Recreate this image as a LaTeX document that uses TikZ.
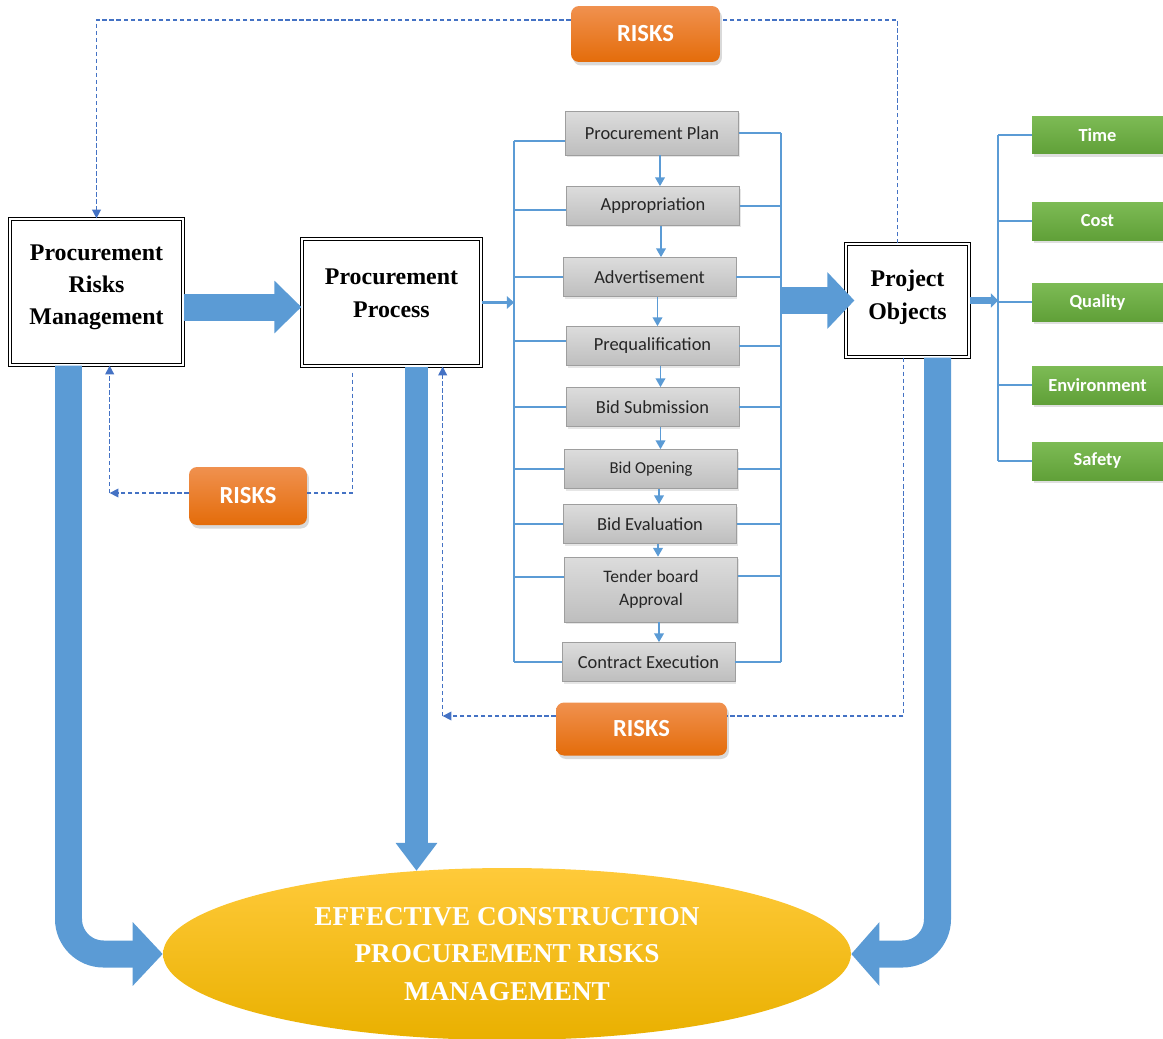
\documentclass[tikz,border=0pt]{standalone}
\usepackage{fontspec}
\setmainfont{Liberation Serif}
\newfontfamily\calibri{Carlito}
\usetikzlibrary{arrows.meta,shapes.geometric,shadows,calc}
\definecolor{flowblue}{HTML}{5B9BD5}
\definecolor{dashblue}{HTML}{4472C4}
\definecolor{risktop}{HTML}{F0914F}
\definecolor{riskbottom}{HTML}{E46C0A}
\definecolor{objtop}{HTML}{7DBB55}
\definecolor{objbottom}{HTML}{60A038}
\definecolor{steptop}{HTML}{DCDCDC}
\definecolor{stepbottom}{HTML}{BEBEBE}
\definecolor{goaltop}{HTML}{FFCA3A}
\definecolor{goalmid}{HTML}{FFC000}
\definecolor{goalbottom}{HTML}{E9B000}
\newcommand\liftlines[2]{\raisebox{#1}[\height][\depth]{\begin{tabular}{@{}c@{}}#2\end{tabular}}}

\begin{document}
\begin{tikzpicture}[x=0.02cm,y=-0.02cm,
  mainbox/.style={draw=black,line width=0.7pt,double=white,double distance=1.3pt,fill=white,
    align=center,inner sep=0pt,font=\fontsize{13.6}{18.4}\selectfont\bfseries},
  stepbox/.style={draw=black!38,top color=steptop,bottom color=stepbottom,text=black!85,
    minimum width=3.46cm,minimum height=0.78cm,inner sep=1pt,align=center,
    font=\calibri\fontsize{10.5}{12.5}\selectfont,
    drop shadow={opacity=0.2,shadow xshift=0.03cm,shadow yshift=-0.04cm}},
  riskbox/.style={rounded corners=0.16cm,top color=risktop,bottom color=riskbottom,text=white,
    font=\calibri\bfseries\fontsize{14}{16}\selectfont,
    drop shadow={opacity=0.3,shadow xshift=0.04cm,shadow yshift=-0.07cm}},
  objbox/.style={top color=objtop,bottom color=objbottom,text=white,minimum width=2.62cm,
    minimum height=0.76cm,font=\calibri\bfseries\fontsize{10.5}{12.5}\selectfont,
    drop shadow={opacity=0.25,shadow xshift=0.03cm,shadow yshift=-0.06cm}},
  bigarrow/.style={draw=flowblue,line width=0.54cm,-{Triangle[width=1.1cm,length=0.54cm]}},
  linkline/.style={draw=flowblue,line width=0.9pt},
  steparrow/.style={flowblue,line width=0.9pt,-{Triangle[width=5.5pt,length=5pt]}},
  riskline/.style={dashblue,line width=0.8pt,dash pattern=on 2.5pt off 1.5pt},
  riskarrow/.style={riskline,-{Triangle[width=5pt,length=5pt]}}]
\useasboundingbox (0,0) rectangle (1163,1038);

% main blocks
\node[mainbox,minimum width=3.46cm,minimum height=2.92cm] (prm) at (96.5,292) {\liftlines{3.4pt}{Procurement\\Risks\\Management}};
\node[mainbox,minimum width=3.58cm,minimum height=2.54cm] (pp) at (391.5,302.5) {\liftlines{4.5pt}{Procurement\\Process}};
\node[mainbox,minimum width=2.46cm,minimum height=2.26cm] (po) at (907.5,300.5) {\liftlines{2.3pt}{Project\\Objects}};

\node[ellipse,minimum width=13.76cm,minimum height=3.44cm,inner sep=0pt,top color=goaltop,middle color=goalmid,
  bottom color=goalbottom,text=white,align=center,font=\fontsize{15.5}{21.3}\selectfont\bfseries] (goal) at (507,954)
  {EFFECTIVE CONSTRUCTION\\PROCUREMENT RISKS\\MANAGEMENT};

% procurement steps
\node[stepbox,minimum height=0.88cm] (plan) at (652,133) {Procurement Plan};
\node[stepbox] (appr) at (653,206) {Appropriation};
\node[stepbox] (adv) at (649.5,277) {Advertisement};
\node[stepbox] (preq) at (652.5,346) {Prequalification};
\node[stepbox] (bsub) at (652.5,407) {Bid Submission};
\node[stepbox,font=\calibri\fontsize{9.5}{12}\selectfont] (bopen) at (651,469) {Bid Opening};
\node[stepbox] (beval) at (650,524) {Bid Evaluation};
\node[stepbox,minimum height=1.3cm,font=\calibri\fontsize{10}{13}\selectfont] (tender) at (651,589.5) {Tender board\\Approval};
\node[stepbox] (cexec) at (648.5,662) {Contract Execution};

\coordinate (lbar) at (514,0);
\coordinate (rbar) at (781,0);
\draw[linkline] ($(plan.west -| lbar)+(0,8)$) -- (cexec.west -| lbar);
\draw[linkline] (plan.east -| rbar) -- (cexec.east -| rbar);
\foreach \s/\d/\e in {plan/8/0,appr/4/0,adv/0/0,preq/-5/0,bsub/0/0,bopen/0/0,beval/0/0,tender/-12.5/-13.5,cexec/0/0} {
  \draw[linkline] ($(\s.west)+(0,\d)$) -- ($(\s.west -| lbar)+(0,\d)$);
  \draw[linkline] ($(\s.east)+(0,\e)$) -- ($(\s.east -| rbar)+(0,\e)$);
}
\foreach \a/\b in {plan/appr,appr/adv,adv/preq,preq/bsub,bsub/bopen,bopen/beval,beval/tender,tender/cexec}
  \draw[steparrow] ($(\a.south)+(8,0)$) -- ($(\a.south |- \b.north)+(8,0)$);
\draw[flowblue,line width=2.2pt,-{Triangle[width=7pt,length=4pt]}] (pp.east) -- (pp.east -| lbar);

% project objects
\node[objbox] (time) at (1097.5,135) {Time};
\node[objbox] (cost) at (1097.5,221) {Cost};
\node[objbox] (qual) at (1097.5,302) {Quality};
\node[objbox] (env) at (1097.5,385) {Environment};
\node[objbox] (safe) at (1097.5,461) {Safety};
\coordinate (gbar) at (998,0);
\draw[linkline] (time.west -| gbar) -- (safe.west -| gbar);
\foreach \g in {time,cost,qual,env,safe}
  \draw[linkline] (\g.west) -- (\g.west -| gbar);
\draw[flowblue,line width=3.5pt,-{Triangle[width=8pt,length=4pt]}] (po.east) -- (po.east -| gbar);

% risks
\node[riskbox,minimum width=2.98cm,minimum height=1.12cm] (risktopbox) at (645.5,34) {RISKS};
\node[riskbox,minimum width=2.36cm,minimum height=1.16cm] (riskmid) at (248,496) {RISKS};
\node[riskbox,minimum width=3.42cm,minimum height=1.06cm] (riskbot) at (641.5,729) {RISKS};

\draw[riskline] ($(po.north)+(-10,0)$) |- ($(risktopbox.east)+(0,-14)$);
\draw[riskarrow] ($(risktopbox.west)+(0,-14)$) -| (prm.north);
\draw[riskline] ($(pp.south)+(-39,6)$) |- ($(riskmid.east)+(0,-3)$);
\draw[riskarrow] ($(riskmid.west)+(0,-3)$) -- ++(-79,0) coordinate (midcorner);
\draw[riskarrow] (midcorner) -- (midcorner |- prm.south);
\draw[riskline] ($(po.south)+(-4,0)$) |- ($(riskbot.east)+(0,-13)$);
\draw[riskarrow] ($(riskbot.west)+(0,-13)$) -- ++(-113,0) coordinate (botcorner);
\draw[riskarrow] (botcorner) -- (botcorner |- pp.south);

% block arrows
\draw[bigarrow,-{Triangle[width=1.02cm,length=0.54cm]}] ($(prm.east)+(0,15)$) coordinate (rmout) -- (rmout -| pp.west);
\draw[bigarrow] (po.west -| rbar) -- ($(po.west)+(9,0)$);
\draw[bigarrow,line width=0.46cm,-{Triangle[width=0.8cm,length=0.56cm]}] ($(pp.south)+(25,0)$) coordinate (ppdown) -- (ppdown |- goal.138);
\draw[bigarrow,rounded corners=0.7cm,-{Triangle[width=1.24cm,length=0.6cm]}] ($(prm.south)+(-28,0)$) |- (goal.west);
\draw[bigarrow,rounded corners=0.7cm,-{Triangle[width=1.24cm,length=0.56cm]}] ($(po.south)+(30,0)$) |- (goal.east);
\end{tikzpicture}
\end{document}
